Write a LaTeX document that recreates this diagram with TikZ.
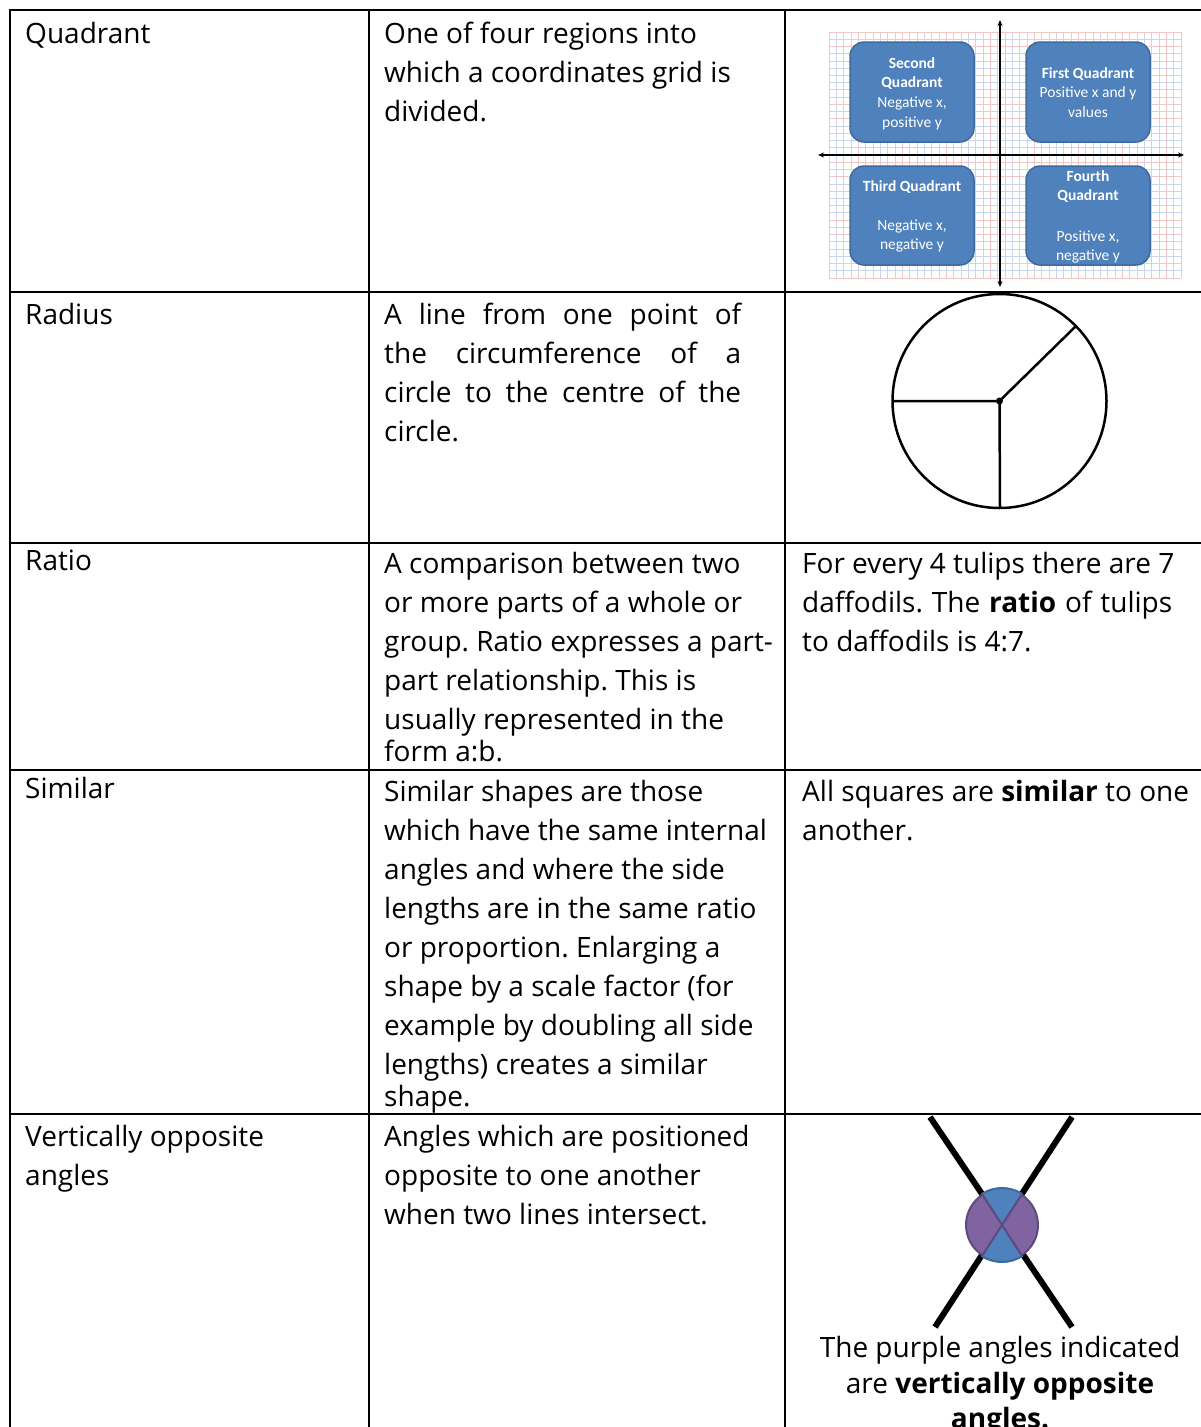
\documentclass[tikz,border=0pt]{standalone}
\usepackage{fontspec}
\setmainfont{Open Sans}
\newfontfamily\boxfont{Carlito}
\usetikzlibrary{arrows.meta}
\definecolor{qblue}{HTML}{4F81BD}
\definecolor{qborder}{HTML}{3C6A9E}
\definecolor{vpurple}{HTML}{8064A2}
\definecolor{vpborder}{HTML}{5E4A7E}
\definecolor{gridpink}{HTML}{F2C6C6}
\definecolor{gridblue}{HTML}{C9D5EC}
\newcommand\mainsz{\fontsize{28}{39}\selectfont}
\newcommand\cellrows[1]{\begin{tabular}[t]{@{}l@{}}#1\end{tabular}}
\frenchspacing
\begin{document}
\frenchspacing
\begin{tikzpicture}[x=1pt,y=-1pt,
  tablerule/.style={line width=2pt, black, line cap=rect},
  celltext/.style={anchor=base west, inner sep=0pt, font=\mainsz},
  capttext/.style={anchor=base, inner sep=0pt, font=\mainsz},
  qbox/.style={rounded corners=14pt, fill=qblue, draw=qborder, line width=1.5pt},
  boxtxt/.style={anchor=base, inner sep=0pt, text=white, font=\boxfont\fontsize{15.5}{19}\selectfont},
  boxbold/.style={boxtxt, font=\boxfont\bfseries\fontsize{15.5}{19}\selectfont},
  axisline/.style={line width=1.3pt, {Stealth[length=6pt,width=5pt]}-{Stealth[length=6pt,width=5pt]}},
  circline/.style={line width=2.5pt, black},
  xline/.style={line width=6pt, black},
  bluesec/.style={fill=qblue, draw=qborder, line width=2pt, line join=round},
  purplesec/.style={fill=vpurple, draw=vpborder, line width=2pt, line join=round}]
\useasboundingbox (0,0) rectangle (1201,1427);

% ---------- table rules ----------
\draw[tablerule] (10,10) -- (1215,10);
\foreach \yy in {292,543,770,1114} \draw[tablerule] (10,\yy) -- (1215,\yy);
\foreach \xx in {10,369,785} \draw[tablerule] (\xx,10) -- (\xx,1440);

% ---------- column 1 ----------
\node[celltext] (t1) at (25,43) {Quadrant};
\node[celltext] (t2) at (25,324) {Radius};
\node[celltext] (t3) at (25,570) {Ratio};
\node[celltext] (t4) at (25,798) {Similar};
\node[celltext] (t5) at (25,1146) {\cellrows{Vertically opposite\\ angles}};

% ---------- column 2 ----------
\node[celltext] (d1) at (384,43) {\cellrows{One of four regions into\\ which a coordinates grid is\\ divided.}};
\node[celltext] (d2) at (384,324) {\cellrows{\makebox[357pt][s]{A line from one point of}\\ \makebox[357pt][s]{the circumference of a}\\ \makebox[357pt][s]{circle to the centre of the}\\ circle.}};
\node[celltext] (d3) at (384,573) {\cellrows{A comparison between two\\ or more parts of a whole or\\ group. Ratio expresses a part-\\ part relationship. This is\\ usually represented in the\\[-7pt] form a:b.}};
\node[celltext] (d4) at (384,801) {\cellrows{Similar shapes are those\\ which have the same internal\\ angles and where the side\\ lengths are in the same ratio\\ or proportion. Enlarging a\\ shape by a scale factor (for\\ example by doubling all side\\ lengths) creates a similar\\[-7pt] shape.}};
\node[celltext] (d5) at (384,1146) {\cellrows{Angles which are positioned\\ opposite to one another\\ when two lines intersect.}};

% ---------- column 3 text ----------
\node[celltext] (e3) at (802,573) {\cellrows{For every 4 tulips there are 7\\ \makebox[370pt][s]{daffodils. The \textbf{ratio} of tulips}\\ to daffodils is 4:7.}};
\node[celltext] (e4) at (802,801) {\cellrows{All squares are \textbf{similar} to one\\ another.}};

% ---------- quadrant picture ----------
\foreach \i in {0,2,...,48} \draw[gridpink, line width=0.8pt] ({829+\i*7.333},32) -- ({829+\i*7.333},278);
\foreach \i in {1,3,...,47} \draw[gridblue, line width=0.8pt] ({829+\i*7.333},32) -- ({829+\i*7.333},278);
\foreach \j in {0,2,...,34} \draw[gridpink, line width=0.8pt] (829,{32+\j*7.235}) -- (1181,{32+\j*7.235});
\foreach \j in {1,3,...,33} \draw[gridblue, line width=0.8pt] (829,{32+\j*7.235}) -- (1181,{32+\j*7.235});
\coordinate (ybot) at (1000,287);
\coordinate (ytop) at (1000,20);
\coordinate (xlft) at (818,155);
\coordinate (xrgt) at (1184,155);
\draw[axisline] (ybot) -- (ytop);
\draw[axisline] (xlft) -- (xrgt);
\draw[qbox] (850,42) rectangle (974,142);
\draw[qbox] (1026,42) rectangle (1150,142);
\draw[qbox] (850,166) rectangle (974,265);
\draw[qbox] (1026,166) rectangle (1150,265);
\node[boxbold] (q2a) at (912,68) {Second};
\node[boxbold] (q2b) at (912,87) {Quadrant};
\node[boxtxt]  (q2c) at (912,107) {Negative x,};
\node[boxtxt]  (q2d) at (912,127) {positive y};
\node[boxbold] (q1a) at (1088,78) {First Quadrant};
\node[boxtxt]  (q1b) at (1088,97) {Positive x and y};
\node[boxtxt]  (q1c) at (1088,117) {values};
\node[boxbold] (q3a) at (912,191) {Third Quadrant};
\node[boxtxt]  (q3b) at (912,230) {Negative x,};
\node[boxtxt]  (q3c) at (912,249) {negative y};
\node[boxbold] (q4a) at (1088,181) {Fourth};
\node[boxbold] (q4b) at (1088,200) {Quadrant};
\node[boxtxt]  (q4c) at (1088,241) {Positive x,};
\node[boxtxt]  (q4d) at (1088,260) {negative y};

% ---------- radius picture ----------
\coordinate (cc) at (999.5,401);
\coordinate (rl) at (892.5,401);
\coordinate (rb) at (1000,508);
\coordinate (ru) at (1076,326);
\draw[circline] (cc) circle[radius=107];
\draw[circline] (rl) -- (cc) -- (rb);
\draw[circline] (cc) -- (ru);
\fill (cc) circle[radius=3.5];

% ---------- vertically opposite picture ----------
\coordinate (vc) at (1002,1225);
\coordinate (l1a) at (930,1117);
\coordinate (l1b) at (1072,1327);
\coordinate (l2a) at (1072,1117);
\coordinate (l2b) at (935,1327);
\draw[xline] (l1a) -- (l1b);
\draw[xline] (l2a) -- (l2b);
\draw[bluesec] (vc) -- ++(237:37) arc[start angle=237, end angle=303, radius=37] -- cycle;
\draw[bluesec] (vc) -- ++(57:37) arc[start angle=57, end angle=123, radius=37] -- cycle;
\draw[purplesec] (vc) -- ++(-57:36) arc[start angle=-57, end angle=57, radius=36] -- cycle;
\draw[purplesec] (vc) -- ++(123:36) arc[start angle=123, end angle=237, radius=36] -- cycle;
\node[capttext] (cap) at (1000,1357) {\begin{tabular}[t]{@{}c@{}}The purple angles indicated\\[-3pt] are \textbf{vertically opposite}\\[-4pt] \textbf{angles.}\end{tabular}};
\end{tikzpicture}
\end{document}
